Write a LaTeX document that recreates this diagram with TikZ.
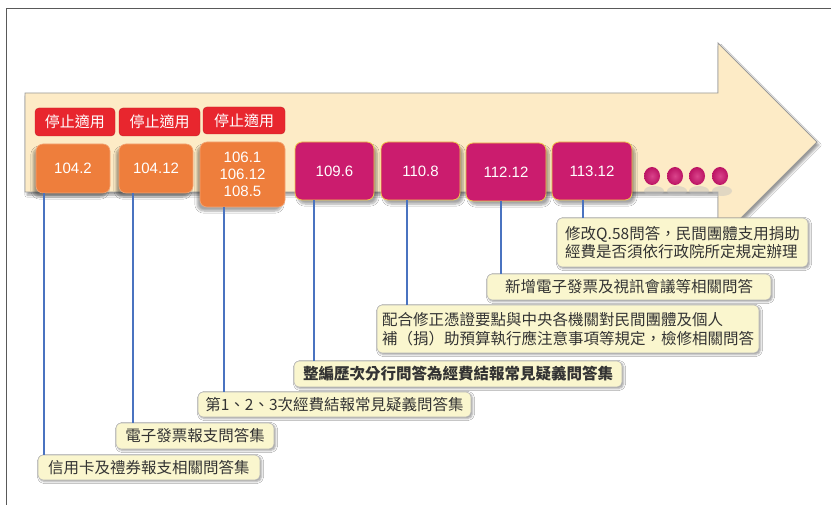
\documentclass[tikz,border=0pt]{standalone}
\usepackage{fontspec}
\setmainfont{Noto Sans CJK TC}
\newfontfamily\numfont{Liberation Sans}
\usetikzlibrary{shadows,shadows.blur}
\definecolor{arrowfill}{HTML}{FDEBC6}
\definecolor{redlab}{HTML}{E8262E}
\definecolor{orangebox}{HTML}{EE7E3C}
\definecolor{magbox}{HTML}{CB1C6E}
\definecolor{dotmag}{HTML}{D0156E}
\definecolor{goldline}{HTML}{F0C84A}
\definecolor{linkblue}{HTML}{4A73C0}
\definecolor{callfill}{HTML}{FAF6CE}
\definecolor{txtgray}{HTML}{333333}
\begin{document}
\begin{tikzpicture}[x=1pt,y=-1pt,
  redtag/.style={rectangle, rounded corners=4pt, fill=redlab, draw=redlab!85!black, line width=0.4pt,
    text=white, font=\fontsize{15}{17}\selectfont, inner sep=0pt},
  orangetag/.style={rectangle, rounded corners=7pt, fill=orangebox, draw=orangebox!70!white, line width=0.6pt,
    text=white, font=\numfont\fontsize{15}{17}\selectfont, inner sep=0pt, align=center,
    blur shadow={shadow xshift=-3pt, shadow yshift=-4pt, shadow blur steps=6, shadow opacity=35}},
  magtag/.style={rectangle, rounded corners=7pt, fill=magbox, draw=goldline, line width=0.8pt,
    text=white, font=\numfont\fontsize{15}{17}\selectfont, inner sep=0pt,
    blur shadow={shadow xshift=3pt, shadow yshift=-4pt, shadow blur steps=6, shadow opacity=35}},
  callout/.style={rectangle, rounded corners=5pt, fill=callfill, draw=black!28, line width=0.6pt,
    text=txtgray, font=\fontsize{15.5}{18.5}\selectfont, inner sep=0pt, align=left,
    blur shadow={shadow xshift=1.5pt, shadow yshift=-1.5pt, shadow blur steps=4, shadow opacity=40}},
  link/.style={draw=linkblue, line width=1.2pt}
]
\useasboundingbox (0,0) rectangle (831,505);
\fill[white] (0,0) rectangle (831,505);
% frame
\draw[black!65, line width=1pt] (6,505) -- (6,9) -- (831,9);
% big arrow
\path[fill=arrowfill, draw=black!40, line width=0.9pt,
  blur shadow={shadow xshift=2pt, shadow yshift=-3pt, shadow blur steps=6, shadow opacity=40}]
  (25,93) -- (718,93) -- (718,43) -- (817,142) -- (718,241) -- (718,192) -- (25,192) -- cycle;

% red tags
\node[redtag, minimum width=80pt, minimum height=28pt] (r1) at (75,122) {停止適用};
\node[redtag, minimum width=81pt, minimum height=28pt] (r2) at (159.5,122) {停止適用};
\node[redtag, minimum width=82pt, minimum height=27pt] (r3) at (244,120.5) {停止適用};

% dates
\node[orangetag, minimum width=74pt, minimum height=49pt] (o1) at (73,168.5) {104.2};
\node[orangetag, minimum width=74pt, minimum height=49pt] (o2) at (156,168.5) {104.12};
\node[orangetag, minimum width=85pt, minimum height=65pt] (o3) at (242.5,174.5) {106.1\\106.12\\108.5};
\node[magtag, minimum width=79pt, minimum height=58pt] (m1) at (334.5,171) {109.6};
\node[magtag, minimum width=79pt, minimum height=58pt] (m2) at (420.5,171) {110.8};
\node[magtag, minimum width=80pt, minimum height=58pt] (m3) at (506,172) {112.12};
\node[magtag, minimum width=80pt, minimum height=58pt] (m4) at (592,171) {113.12};

% dots
\foreach \cx in {652,675,697,720}{
  \fill[black!25, opacity=0.45] (\cx+2,191) ellipse [x radius=10pt, y radius=5pt];
  \shade[inner color=dotmag!80!white, outer color=dotmag!90!black] (\cx,176) ellipse [x radius=8pt, y radius=9pt];
}

% callouts
\node[callout, minimum width=222pt, minimum height=25pt] (c1) at (149,467.5) {信用卡及禮券報支相關問答集};
\node[callout, minimum width=158pt, minimum height=26pt] (c2) at (195,436) {電子發票報支問答集};
\node[callout, minimum width=273pt, minimum height=25pt] (c3) at (334.5,404.5) {第1、2、3次經費結報常見疑義問答集};
\node[callout, minimum width=328pt, minimum height=26pt] (c4) at (458,374) {\bfseries 整編歷次分行問答為經費結報常見疑義問答集};
\node[callout, minimum width=382pt, minimum height=48pt] (c5) at (568,329) {配合修正憑證要點與中央各機關對民間團體及個人\\補（捐）助預算執行應注意事項等規定，檢修相關問答};
\node[callout, minimum width=284pt, minimum height=26pt] (c6) at (629,287) {新增電子發票及視訊會議等相關問答};
\node[callout, minimum width=251pt, minimum height=49pt] (c7) at (682.5,242.5) {修改Q.58問答，民間團體支用捐助\\經費是否須依行政院所定規定辦理};

% connectors
\coordinate (x1) at (44,0);
\coordinate (x2) at (133,0);
\coordinate (x3) at (224,0);
\coordinate (x4) at (314,0);
\coordinate (x5) at (407,0);
\coordinate (x6) at (501,0);
\coordinate (x7) at (583,0);
\draw[link] (o1.south -| x1) -- (c1.north -| x1);
\draw[link] (o2.south -| x2) -- (c2.north -| x2);
\draw[link] (o3.south -| x3) -- (c3.north -| x3);
\draw[link] (m1.south -| x4) -- (c4.north -| x4);
\draw[link] (m2.south -| x5) -- (c5.north -| x5);
\draw[link] (m3.south -| x6) -- (c6.north -| x6);
\draw[link] (m4.south -| x7) -- (c7.north -| x7);
\end{tikzpicture}
\end{document}
